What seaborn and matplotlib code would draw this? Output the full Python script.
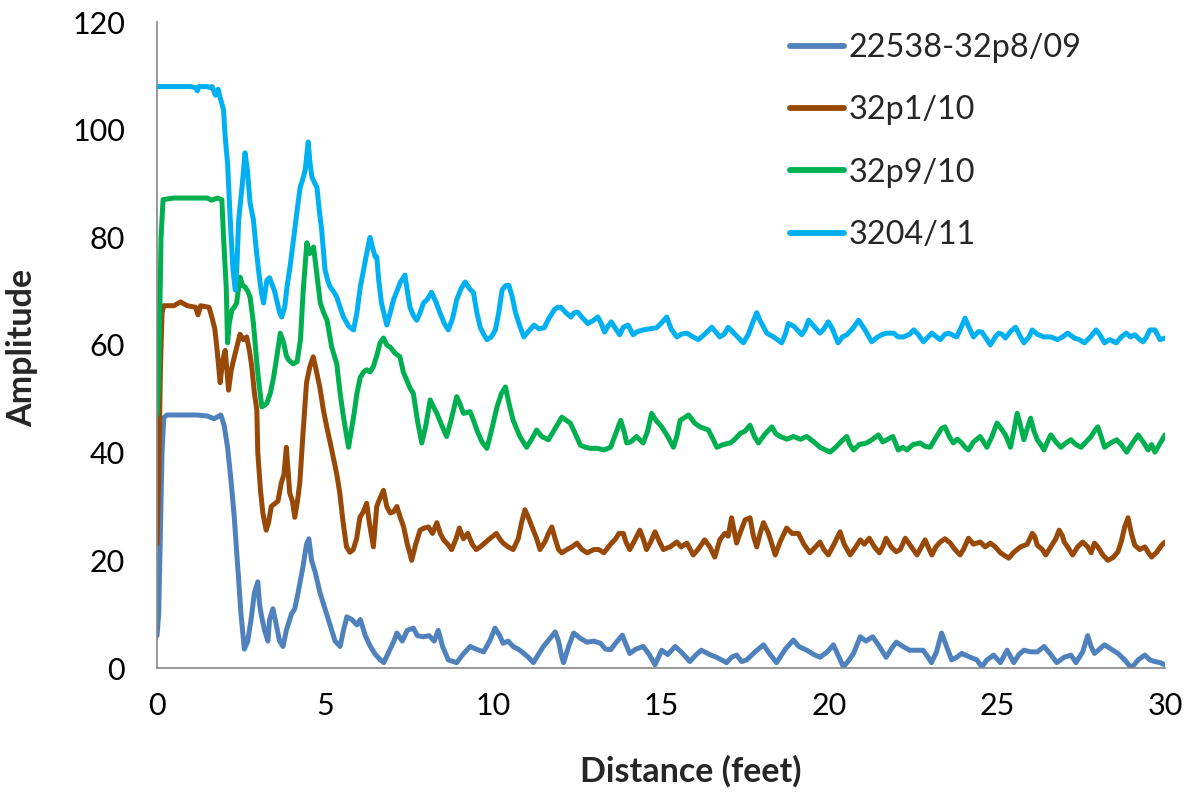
import matplotlib
matplotlib.use("Agg")
import matplotlib.pyplot as plt
import seaborn as sns
import pandas as pd

# ---------------- data ----------------
series_names = ["22538-32p8/09", "32p1/10", "32p9/10", "3204/11"]
series_colors = ["#4F81BD", "#984807", "#00B050", "#00B0F0"]

s1_dist = [0.0, 0.05, 0.1, 0.15, 0.2, 0.3, 0.8, 1.2, 1.5, 1.7, 1.9, 2.0, 2.1, 2.2, 2.3, 2.4, 2.5, 2.6, 2.7, 2.8, 2.9, 3.0, 3.05, 3.1, 3.2, 3.3, 3.35, 3.45, 3.55, 3.65, 3.75, 3.85, 4.0, 4.1, 4.2, 4.35, 4.45, 4.52, 4.6, 4.7, 4.85, 5.0, 5.15, 5.3, 5.45, 5.55, 5.65, 5.8, 5.95, 6.05, 6.2, 6.35, 6.5, 6.65, 6.75, 6.9, 7.05, 7.14, 7.3, 7.45, 7.63, 7.75, 7.92, 8.1, 8.25, 8.37, 8.5, 8.67, 8.92, 9.1, 9.32, 9.5, 9.72, 9.9, 10.06, 10.2, 10.3, 10.45, 10.6, 10.75, 10.9, 11.05, 11.2, 11.35, 11.5, 11.7, 11.85, 11.95, 12.05, 12.1, 12.25, 12.4, 12.6, 12.8, 13.0, 13.2, 13.35, 13.5, 13.7, 13.85, 13.95, 14.07, 14.25, 14.47, 14.65, 14.82, 15.02, 15.2, 15.42, 15.6, 15.86, 16.05, 16.2, 16.45, 16.65, 16.95, 17.1, 17.25, 17.4, 17.55, 17.8, 18.05, 18.25, 18.44, 18.7, 18.94, 19.1, 19.34, 19.55, 19.73, 19.95, 20.13, 20.3, 20.43, 20.6, 20.73, 20.93, 21.1, 21.3, 21.5, 21.7, 21.85, 22.0, 22.2, 22.4, 22.6, 22.8, 22.95, 23.05, 23.2, 23.35, 23.5, 23.65, 23.8, 23.95, 24.2, 24.4, 24.55, 24.7, 24.9, 25.1, 25.3, 25.5, 25.65, 25.8, 26.0, 26.2, 26.4, 26.6, 26.78, 27.0, 27.2, 27.35, 27.55, 27.7, 27.8, 27.9, 28.05, 28.2, 28.4, 28.6, 28.8, 29.0, 29.2, 29.4, 29.55, 29.7, 29.85, 30.0]
s1_amp = [6, 10, 25, 40, 46.5, 47, 47, 47, 46.8, 46.3, 47, 45, 41, 35, 28, 19, 10, 3.5, 5, 9, 14, 16, 12, 10, 7, 5, 9, 11, 8, 5, 4, 7, 10, 11, 14, 19, 23, 24, 20, 18, 14, 11, 8, 5, 4, 7, 9.5, 9, 8, 9, 6, 4, 2.5, 1.5, 1, 3, 5, 6.5, 5, 7, 7.4, 6, 5.8, 6, 5, 7, 4, 1.5, 1, 2.5, 4, 3.5, 3, 5, 7.4, 6, 4.6, 5, 4, 3.5, 2.8, 2, 1, 2.5, 4, 5.5, 6.7, 5, 2, 1, 4, 6.5, 5.5, 4.8, 5, 4.6, 3.5, 3.4, 5, 6.1, 4.5, 2.7, 3.5, 4, 2.5, 0.6, 3.3, 2.5, 4, 3, 1.2, 2.5, 3.3, 2.5, 2, 1, 2, 2.4, 1.2, 1.5, 3, 4.3, 2.5, 1, 3.5, 5.2, 4, 3.3, 2.5, 2, 3, 4.3, 2, 0.2, 1.5, 2.7, 5.8, 5, 5.8, 4, 2, 3.5, 4.8, 4, 3.3, 3.3, 3.3, 2, 1, 3, 6.5, 4, 1.5, 2, 2.7, 2, 1.5, 0.2, 1.5, 2.4, 1, 3.3, 1, 2.5, 3.3, 3, 3, 4, 2.5, 1, 2, 2.4, 1, 3, 6, 4, 2.7, 3.5, 4.3, 3.5, 2.7, 1.5, 0, 1.5, 2.4, 1.5, 1.2, 1, 0.6]

s2_dist = [0.0, 0.05, 0.1, 0.15, 0.2, 0.5, 0.7, 0.9, 1.15, 1.22, 1.3, 1.55, 1.64, 1.72, 1.78, 1.88, 1.95, 2.03, 2.13, 2.2, 2.27, 2.35, 2.47, 2.57, 2.67, 2.75, 2.82, 2.9, 2.97, 3.0, 3.08, 3.15, 3.25, 3.32, 3.4, 3.5, 3.6, 3.7, 3.78, 3.85, 3.95, 4.03, 4.1, 4.18, 4.25, 4.35, 4.45, 4.55, 4.65, 4.75, 4.85, 4.95, 5.05, 5.15, 5.25, 5.35, 5.44, 5.54, 5.64, 5.74, 5.84, 5.94, 6.04, 6.14, 6.24, 6.32, 6.39, 6.44, 6.54, 6.6, 6.74, 6.84, 6.94, 7.04, 7.14, 7.24, 7.34, 7.45, 7.58, 7.7, 7.83, 7.95, 8.08, 8.2, 8.33, 8.43, 8.53, 8.65, 8.77, 8.9, 9.0, 9.12, 9.25, 9.38, 9.5, 9.62, 9.75, 9.9, 10.1, 10.2, 10.3, 10.45, 10.6, 10.75, 10.85, 10.95, 11.05, 11.2, 11.3, 11.4, 11.55, 11.65, 11.75, 11.85, 11.95, 12.05, 12.2, 12.35, 12.5, 12.65, 12.8, 13.0, 13.15, 13.3, 13.5, 13.65, 13.75, 13.88, 13.95, 14.07, 14.2, 14.37, 14.47, 14.57, 14.7, 14.82, 14.95, 15.07, 15.27, 15.47, 15.6, 15.77, 15.96, 16.1, 16.3, 16.45, 16.6, 16.75, 16.9, 17.0, 17.1, 17.25, 17.35, 17.5, 17.65, 17.75, 17.85, 17.95, 18.05, 18.2, 18.3, 18.4, 18.55, 18.74, 18.9, 19.09, 19.25, 19.43, 19.6, 19.73, 19.85, 19.98, 20.15, 20.33, 20.45, 20.63, 20.8, 20.93, 21.05, 21.2, 21.35, 21.5, 21.6, 21.7, 21.85, 22.0, 22.12, 22.27, 22.45, 22.62, 22.75, 22.86, 22.95, 23.06, 23.18, 23.31, 23.45, 23.61, 23.75, 23.9, 24.0, 24.15, 24.3, 24.5, 24.65, 24.8, 24.95, 25.1, 25.2, 25.35, 25.5, 25.7, 25.9, 26.05, 26.12, 26.2, 26.35, 26.45, 26.6, 26.75, 26.85, 26.95, 27.0, 27.1, 27.25, 27.4, 27.55, 27.7, 27.8, 27.9, 28.0, 28.15, 28.3, 28.45, 28.6, 28.7, 28.8, 28.9, 29.0, 29.1, 29.25, 29.4, 29.5, 29.6, 29.75, 29.9, 30.0]
s2_amp = [23, 35, 55, 66, 67.3, 67.3, 68, 67.3, 67, 65.6, 67.3, 67, 65, 63, 59.6, 53, 57, 59, 51.6, 55, 57, 59, 62, 61, 61.5, 59, 56, 51, 48, 40, 33, 28.8, 25.6, 27, 30, 30.5, 31, 34.4, 36, 41, 32.5, 31, 28, 31, 34.4, 44, 53, 56, 57.8, 55, 52, 48, 44.8, 42, 39, 36, 32.5, 27, 22.5, 21.5, 22, 24, 28, 29, 30.6, 27, 24.3, 22.5, 30, 31, 33, 30, 28.8, 29, 30, 28, 26.2, 23, 20, 23, 25.6, 26, 26.2, 25, 27, 25, 23.8, 23, 22, 24, 26, 24, 25, 23, 22, 22.5, 23.2, 24, 25, 24, 23.2, 22.5, 22, 24, 27, 29.4, 28, 25.6, 24, 22, 23.5, 25, 26.2, 24, 22, 21.4, 22, 22.5, 23.2, 22, 21.4, 22, 22, 21.4, 23, 24, 25, 25, 23.5, 22, 23.5, 25.6, 24, 22, 23.5, 25.3, 23.5, 22, 22.5, 23.4, 22.5, 23.2, 21, 22, 23.8, 22.5, 20.6, 23.8, 25, 24.5, 27.9, 23.2, 25, 27.5, 27.9, 24.5, 22.5, 25, 27, 25, 23, 21, 23.5, 26, 25, 25, 23, 21.4, 22.5, 23.4, 22, 21, 23, 25.3, 23, 21, 22.5, 23.8, 23, 24.1, 22.5, 21.4, 22.5, 24.1, 22.5, 21.6, 22, 24.1, 22.5, 21, 22.5, 23.8, 22.5, 21, 22.5, 23.4, 24, 23.2, 22, 21, 22, 24.1, 23, 23.4, 22.5, 23.2, 22.5, 21.4, 21, 20.4, 21.5, 22.5, 23, 25, 24.5, 22.8, 22, 21, 22.5, 24, 25.6, 24.5, 23.4, 22.5, 21, 22.5, 23.4, 22.5, 21.4, 23.2, 22.5, 21, 20, 20.5, 21.6, 23.5, 26.2, 27.9, 25, 22.8, 22, 22.5, 21.5, 20.6, 21.5, 22.8, 23.4]

s3_dist = [0.0, 0.04, 0.08, 0.12, 0.18, 0.5, 1.0, 1.5, 1.62, 1.8, 1.93, 1.98, 2.06, 2.1, 2.15, 2.23, 2.3, 2.37, 2.47, 2.55, 2.62, 2.7, 2.77, 2.87, 2.97, 3.05, 3.12, 3.2, 3.27, 3.37, 3.47, 3.57, 3.67, 3.77, 3.85, 3.92, 4.05, 4.17, 4.27, 4.35, 4.46, 4.55, 4.66, 4.76, 4.86, 4.96, 5.06, 5.2, 5.35, 5.45, 5.55, 5.7, 5.85, 5.95, 6.05, 6.15, 6.24, 6.34, 6.44, 6.54, 6.64, 6.74, 6.84, 6.94, 7.08, 7.23, 7.33, 7.43, 7.53, 7.63, 7.75, 7.88, 8.0, 8.13, 8.23, 8.33, 8.48, 8.62, 8.75, 8.92, 9.02, 9.12, 9.32, 9.42, 9.52, 9.67, 9.82, 9.95, 10.12, 10.25, 10.37, 10.48, 10.6, 10.8, 11.0, 11.15, 11.3, 11.45, 11.65, 11.85, 12.05, 12.18, 12.3, 12.45, 12.6, 12.75, 12.9, 13.1, 13.3, 13.5, 13.65, 13.8, 13.9, 13.98, 14.1, 14.27, 14.47, 14.6, 14.72, 14.85, 15.02, 15.2, 15.37, 15.47, 15.57, 15.7, 15.82, 16.0, 16.16, 16.41, 16.55, 16.66, 16.85, 17.06, 17.2, 17.36, 17.5, 17.65, 17.78, 17.9, 18.1, 18.3, 18.42, 18.55, 18.75, 18.94, 19.15, 19.34, 19.55, 19.73, 19.9, 20.03, 20.2, 20.35, 20.53, 20.62, 20.73, 20.9, 21.12, 21.3, 21.47, 21.6, 21.72, 21.9, 22.06, 22.2, 22.32, 22.5, 22.71, 22.85, 23.01, 23.2, 23.35, 23.45, 23.58, 23.7, 23.82, 23.95, 24.05, 24.15, 24.3, 24.5, 24.6, 24.7, 24.85, 25.0, 25.12, 25.25, 25.4, 25.5, 25.6, 25.7, 25.8, 25.9, 26.0, 26.1, 26.2, 26.3, 26.4, 26.5, 26.6, 26.75, 26.9, 27.05, 27.2, 27.35, 27.5, 27.65, 27.8, 27.9, 28.0, 28.1, 28.2, 28.38, 28.56, 28.7, 28.86, 29.0, 29.2, 29.35, 29.5, 29.6, 29.7, 29.86, 30.0]
s3_amp = [47, 52, 65, 80, 87, 87.3, 87.3, 87.3, 86.9, 87.3, 87, 80, 70.8, 60.4, 64, 66.5, 67, 67.8, 72.6, 71, 70.8, 70, 68.9, 64, 56.7, 52, 48.5, 48.8, 49.2, 51, 54, 58, 62.2, 60.4, 58, 57.2, 56.5, 56.9, 61, 70, 79, 77, 78.2, 73, 67.8, 66, 64.6, 59.6, 56.5, 51, 46.6, 41, 46.6, 51, 54, 55, 55.4, 55, 56, 58, 60.4, 61.3, 60, 59.6, 58.5, 57.8, 55, 53.5, 52, 51, 46, 41.8, 45, 49.8, 48.5, 47.3, 45, 43, 46, 50.4, 49, 47.3, 47.6, 46, 44.2, 42, 40.8, 44, 48.5, 51, 52.2, 49, 46, 43, 41, 42.5, 44.2, 43, 42.4, 44.5, 46.6, 46, 45.5, 43.5, 41.4, 41, 40.8, 40.8, 40.5, 41, 43.5, 46, 44, 41.8, 42, 43, 41.8, 44, 47.3, 46, 44.8, 43, 41, 43, 46, 46.5, 47, 45.5, 44.8, 44.2, 42.5, 41, 41.5, 41.8, 42.5, 43.6, 44, 45.1, 43, 41.8, 43.5, 44.8, 43.5, 43, 42.5, 43, 42.5, 43, 42, 41, 40.5, 40.1, 41, 42, 43, 41.5, 40.5, 41.5, 41.8, 42.5, 43.3, 42, 42.4, 43, 40.5, 41, 40.5, 41.5, 41.8, 41.2, 41, 43, 44.5, 44.8, 43, 41.8, 42.5, 41.8, 41, 40.5, 42, 43, 42, 41, 43, 45.5, 44.5, 43.3, 41, 44, 47.3, 45, 42.4, 44.5, 46.4, 44, 42.4, 41.5, 40.5, 42, 43.3, 42, 41, 41.8, 42.4, 41.5, 41, 42, 43, 44, 44.8, 43, 41, 41.8, 42.4, 41.5, 40.1, 41.5, 43.3, 42, 40.5, 41.5, 40.1, 41.8, 43.3]

s4_dist = [0.0, 0.5, 1.0, 1.15, 1.2, 1.25, 1.5, 1.6, 1.64, 1.7, 1.74, 1.82, 1.88, 1.98, 2.03, 2.1, 2.18, 2.26, 2.33, 2.38, 2.43, 2.53, 2.62, 2.69, 2.77, 2.87, 2.95, 3.02, 3.1, 3.17, 3.27, 3.35, 3.41, 3.5, 3.56, 3.65, 3.71, 3.8, 3.87, 3.97, 4.07, 4.17, 4.26, 4.35, 4.41, 4.47, 4.5, 4.55, 4.61, 4.7, 4.76, 4.83, 4.9, 5.0, 5.08, 5.15, 5.25, 5.35, 5.45, 5.55, 5.7, 5.85, 5.95, 6.05, 6.15, 6.24, 6.34, 6.42, 6.49, 6.54, 6.6, 6.68, 6.84, 6.94, 7.04, 7.14, 7.23, 7.38, 7.45, 7.53, 7.63, 7.73, 7.83, 7.93, 8.05, 8.17, 8.3, 8.42, 8.55, 8.67, 8.8, 8.92, 9.05, 9.17, 9.3, 9.42, 9.52, 9.62, 9.72, 9.82, 9.95, 10.07, 10.17, 10.27, 10.37, 10.47, 10.57, 10.67, 10.8, 10.92, 11.05, 11.22, 11.37, 11.52, 11.67, 11.82, 11.92, 12.02, 12.17, 12.32, 12.42, 12.52, 12.67, 12.82, 12.97, 13.12, 13.22, 13.32, 13.42, 13.52, 13.65, 13.77, 13.88, 14.02, 14.17, 14.3, 14.47, 14.65, 14.87, 15.0, 15.17, 15.3, 15.47, 15.6, 15.77, 15.95, 16.11, 16.3, 16.51, 16.62, 16.75, 16.88, 17.0, 17.2, 17.45, 17.6, 17.75, 17.85, 17.95, 18.15, 18.35, 18.59, 18.7, 18.79, 18.95, 19.19, 19.3, 19.39, 19.55, 19.73, 19.85, 19.98, 20.1, 20.27, 20.4, 20.53, 20.7, 20.88, 21.05, 21.27, 21.45, 21.6, 21.72, 21.92, 22.06, 22.22, 22.4, 22.52, 22.65, 22.81, 22.95, 23.06, 23.2, 23.31, 23.45, 23.56, 23.7, 23.8, 23.95, 24.05, 24.15, 24.3, 24.45, 24.55, 24.7, 24.8, 24.95, 25.05, 25.15, 25.25, 25.4, 25.55, 25.7, 25.8, 25.95, 26.05, 26.2, 26.4, 26.6, 26.8, 26.95, 27.1, 27.3, 27.45, 27.6, 27.78, 27.95, 28.05, 28.2, 28.35, 28.55, 28.7, 28.85, 28.97, 29.1, 29.25, 29.35, 29.45, 29.55, 29.7, 29.85, 30.0]
s4_amp = [108, 108, 108, 107.8, 107.2, 108, 108, 107.8, 108, 107, 106.4, 107.5, 105.9, 103.7, 98.6, 93.8, 83.2, 74, 70.2, 75, 83.2, 89.3, 95.7, 92.5, 86.4, 83.2, 78, 74, 70, 67.8, 72, 72.5, 71.5, 70, 68.4, 66, 65.2, 67, 70.8, 75, 80, 85, 89.3, 91, 92.5, 96, 97.7, 94, 91.2, 90, 89.3, 85, 81.4, 74, 72, 70.8, 70, 68.9, 67, 65.2, 63.5, 62.8, 66, 70.8, 74, 77, 80, 78, 76.4, 76.4, 72, 67.8, 63.7, 66, 68.4, 70, 71.5, 73, 70, 67, 65.5, 64.6, 66, 67.8, 68.5, 69.8, 68, 66, 64, 62.8, 65, 68.4, 70.5, 71.7, 70.5, 69.7, 66, 63.3, 62, 61, 61.5, 62.8, 66, 70.2, 71, 71.1, 69, 66, 63.5, 61.5, 62.5, 63.7, 63, 63.2, 65, 66.5, 67, 67, 66, 65.2, 66, 66.1, 65, 64, 64.5, 65.2, 64, 62.4, 63.5, 64.3, 63, 61.9, 63.3, 63.7, 61.9, 62.5, 62.8, 63, 63.2, 64, 65.2, 63, 61.5, 62, 62.2, 61.5, 61, 62, 63.3, 62.5, 61.5, 62, 63.3, 62, 60.4, 62, 64.5, 66, 64.5, 62.2, 61.5, 60.4, 62, 64, 63.5, 61.9, 63, 64.6, 63.5, 62.2, 63, 64.3, 63, 60.4, 61.5, 61.9, 63, 64.6, 63, 60.6, 61.5, 62, 62.2, 62.2, 61.5, 61.5, 62, 62.8, 62, 60.6, 61.5, 62.2, 61.5, 61, 62, 62.2, 61.8, 61.5, 63.5, 65, 63.5, 61.5, 62.5, 62.4, 61, 60, 61.5, 62.2, 62, 61.3, 62.5, 63.3, 61.5, 60.4, 61.5, 62.8, 62, 61.5, 61.5, 61, 61.5, 62.2, 61.3, 61, 60.4, 61.5, 62.8, 62, 60.4, 61, 60.4, 61.5, 62.2, 61.5, 61.9, 61, 60.6, 61.5, 62.8, 62.8, 61, 61.3]

x_ticks = [0, 5, 10, 15, 20, 25, 30]
y_ticks = [0, 20, 40, 60, 80, 100, 120]
x_label = "Distance (feet)"
y_label = "Amplitude"

# ---------------- build long-form table ----------------
frames = []
for name, d, a in zip(series_names,
                      [s1_dist, s2_dist, s3_dist, s4_dist],
                      [s1_amp, s2_amp, s3_amp, s4_amp]):
    frames.append(pd.DataFrame({"Distance": d, "Amplitude": a, "Series": name}))
df = pd.concat(frames, ignore_index=True)

# ---------------- plot ----------------
sns.set_style("white")
plt.rcParams["font.family"] = ["Lato", "DejaVu Sans"]

fig = plt.figure(figsize=(11.9, 8.01), dpi=100)
ax = fig.add_axes([157 / 1190, 1 - 668 / 801, (1165 - 157) / 1190, (668 - 22) / 801])

sns.lineplot(data=df, x="Distance", y="Amplitude", hue="Series",
             hue_order=series_names, palette=series_colors,
             estimator=None, sort=False, linewidth=3.6, ax=ax)
for ln in ax.get_lines():
    ln.set_solid_joinstyle("round")
    ln.set_solid_capstyle("round")

ax.set_xlim(0, 30)
ax.set_ylim(0, 120)
ax.set_xticks(x_ticks)
ax.set_yticks(y_ticks)
ax.set_xticklabels([str(t) for t in x_ticks])
ax.set_yticklabels([str(t) for t in y_ticks])

for s in ["top", "right"]:
    ax.spines[s].set_visible(False)
for s in ["left", "bottom"]:
    ax.spines[s].set_color("#868686")
    ax.spines[s].set_linewidth(1.2)

ax.tick_params(axis="both", which="major", direction="out", length=9,
               width=1.2, color="#868686", labelsize=22, labelcolor="#000000")
ax.tick_params(axis="y", pad=14)
ax.tick_params(axis="x", pad=8)

ax.set_xlabel(x_label, fontsize=24.5, fontweight="bold")
ax.set_ylabel(y_label, fontsize=24.5, fontweight="bold")
ax.xaxis.set_label_coords(0.53, -0.135)
ax.yaxis.set_label_coords(-0.118, 0.495)

leg = ax.legend(loc="upper left", bbox_to_anchor=(790 / 1190, 1 - 33 / 801),
                bbox_transform=fig.transFigure, frameon=False,
                prop={"family": "Lato", "size": 23.3},
                handlelength=1.67, handletextpad=0.15, labelspacing=1.0,
                borderaxespad=0, borderpad=0)
for line in leg.get_lines():
    line.set_linewidth(4.2)

fig.savefig("out.png", dpi=100)
